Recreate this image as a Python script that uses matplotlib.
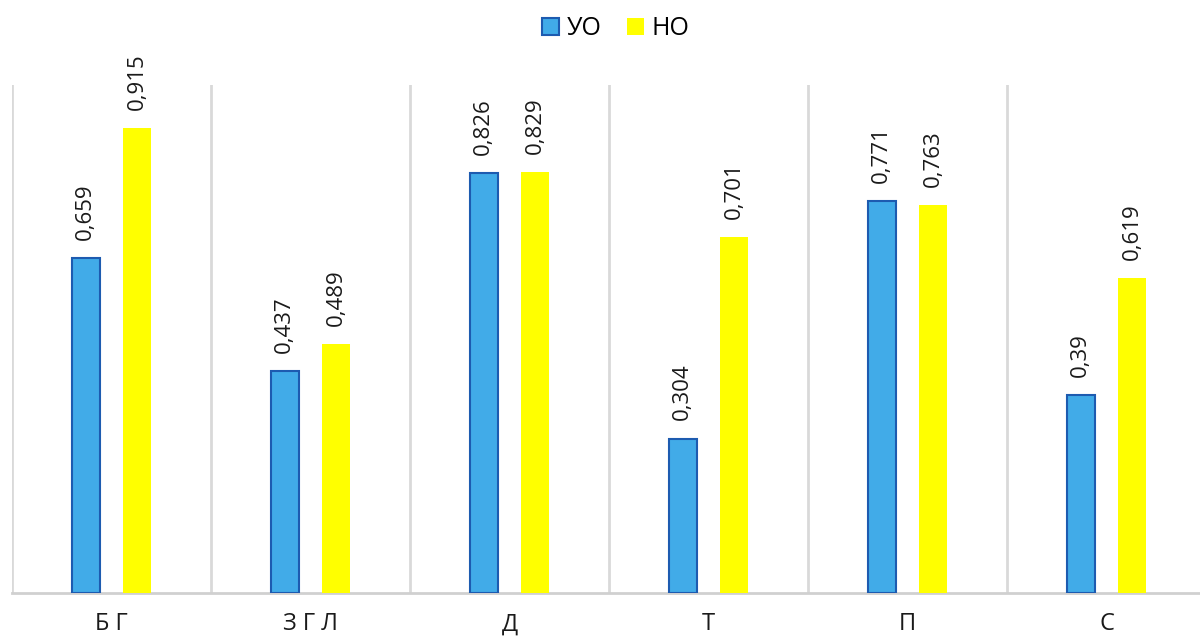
import matplotlib
matplotlib.use('Agg')
import matplotlib.pyplot as plt
import numpy as np

# Категории и значения показателей
kategorii = ['Б Г', 'З Г Л', 'Д', 'Т', 'П', 'С']
uo = [0.659, 0.437, 0.826, 0.304, 0.771, 0.39]
no = [0.915, 0.489, 0.829, 0.701, 0.763, 0.619]

plt.rcParams['font.family'] = ['Open Sans', 'DejaVu Sans']

fig = plt.figure(figsize=(12, 6.37), dpi=100)
ax = fig.add_axes([0.01, 0.069, 0.995, 0.798])

x = np.arange(len(kategorii))
w = 0.14
sdvig = 0.13

b1 = ax.bar(x - sdvig, uo, w, color='#41abe8', edgecolor='#1d5bb0', linewidth=1.5, label='УО', zorder=3)
b2 = ax.bar(x + sdvig, no, w, color='#ffff00', edgecolor='#ffff00', linewidth=0, label='НО', zorder=3)

# Подписи значений над столбцами
for bars, vals in ((b1, uo), (b2, no)):
    for b, v in zip(bars, vals):
        ax.annotate(str(v).replace('.', ','), (b.get_x() + b.get_width() / 2, v),
                    xytext=(0, 13), textcoords='offset points', rotation=90,
                    ha='center', va='bottom', fontsize=16, color='#1a1a1a')

# Вертикальные разделители между категориями
for gx in np.arange(len(kategorii) + 1) - 0.5:
    ax.axvline(gx, color='#d9d9d9', linewidth=2, zorder=1)

ax.set_xlim(-0.5, len(kategorii) - 0.5)
ax.set_ylim(0, 1.0)
ax.set_xticks(x)
ax.set_xticklabels(kategorii, fontsize=17, color='#1a1a1a')
ax.tick_params(axis='x', length=0, pad=14)
ax.set_yticks([])
for s in ['top', 'right', 'left']:
    ax.spines[s].set_visible(False)
ax.spines['bottom'].set_color('#d0d0d0')
ax.spines['bottom'].set_linewidth(2)

fig.legend(handles=[b1, b2], loc='upper center', bbox_to_anchor=(0.513, 1.01), ncol=2,
           frameon=False, fontsize=18, handlelength=0.7, handleheight=0.7,
           handletextpad=0.3, columnspacing=1.0)

fig.savefig('out.png', dpi=100)
